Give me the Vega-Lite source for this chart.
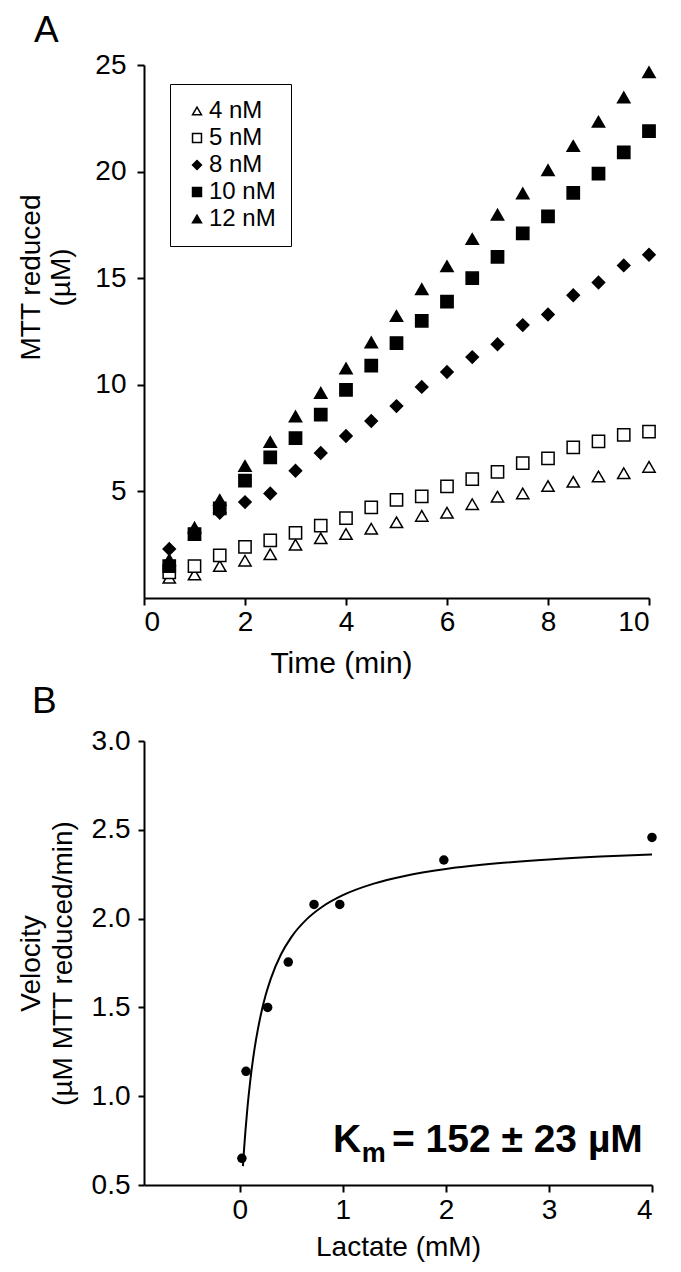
{
  "$schema": "https://vega.github.io/schema/vega-lite/v6.json",
  "background": "white",
  "padding": {"left": 17, "top": 12, "right": 5, "bottom": 5},
  "bounds": "flush",
  "spacing": 143,
  "config": {
    "view": {"stroke": null},
    "font": "Liberation Sans",
    "axis": {"domainColor": "black", "domainWidth": 2, "tickColor": "black", "tickWidth": 2, "grid": false, "labelColor": "black", "titleColor": "black", "labelFont": "Liberation Sans", "titleFont": "Liberation Sans", "titleFontWeight": "normal"},
    "title": {"font": "Liberation Sans", "fontWeight": "normal", "color": "black"},
    "legend": {"symbolStrokeWidth": 1.5}
  },
  "vconcat": [
    {
      "width": 505,
      "height": 533,
      "title": {"text": "A", "anchor": "start", "frame": "group", "dx": -110, "fontSize": 37, "baseline": "alphabetic", "offset": -28},
      "data": {"values": [
        {"time": 0.5, "mtt": 0.95, "conc": "4 nM"}, {"time": 1, "mtt": 1.1, "conc": "4 nM"}, {"time": 1.5, "mtt": 1.5, "conc": "4 nM"}, {"time": 2, "mtt": 1.75, "conc": "4 nM"}, {"time": 2.5, "mtt": 2.05, "conc": "4 nM"}, {"time": 3, "mtt": 2.5, "conc": "4 nM"}, {"time": 3.5, "mtt": 2.8, "conc": "4 nM"}, {"time": 4, "mtt": 3.0, "conc": "4 nM"}, {"time": 4.5, "mtt": 3.25, "conc": "4 nM"}, {"time": 5, "mtt": 3.55, "conc": "4 nM"}, {"time": 5.5, "mtt": 3.85, "conc": "4 nM"}, {"time": 6, "mtt": 4.0, "conc": "4 nM"}, {"time": 6.5, "mtt": 4.4, "conc": "4 nM"}, {"time": 7, "mtt": 4.75, "conc": "4 nM"}, {"time": 7.5, "mtt": 4.9, "conc": "4 nM"}, {"time": 8, "mtt": 5.25, "conc": "4 nM"}, {"time": 8.5, "mtt": 5.45, "conc": "4 nM"}, {"time": 9, "mtt": 5.7, "conc": "4 nM"}, {"time": 9.5, "mtt": 5.85, "conc": "4 nM"}, {"time": 10, "mtt": 6.15, "conc": "4 nM"},
        {"time": 0.5, "mtt": 1.2, "conc": "5 nM"}, {"time": 1, "mtt": 1.5, "conc": "5 nM"}, {"time": 1.5, "mtt": 2.0, "conc": "5 nM"}, {"time": 2, "mtt": 2.4, "conc": "5 nM"}, {"time": 2.5, "mtt": 2.7, "conc": "5 nM"}, {"time": 3, "mtt": 3.05, "conc": "5 nM"}, {"time": 3.5, "mtt": 3.4, "conc": "5 nM"}, {"time": 4, "mtt": 3.75, "conc": "5 nM"}, {"time": 4.5, "mtt": 4.25, "conc": "5 nM"}, {"time": 5, "mtt": 4.6, "conc": "5 nM"}, {"time": 5.5, "mtt": 4.77, "conc": "5 nM"}, {"time": 6, "mtt": 5.24, "conc": "5 nM"}, {"time": 6.5, "mtt": 5.58, "conc": "5 nM"}, {"time": 7, "mtt": 5.92, "conc": "5 nM"}, {"time": 7.5, "mtt": 6.33, "conc": "5 nM"}, {"time": 8, "mtt": 6.55, "conc": "5 nM"}, {"time": 8.5, "mtt": 7.07, "conc": "5 nM"}, {"time": 9, "mtt": 7.35, "conc": "5 nM"}, {"time": 9.5, "mtt": 7.65, "conc": "5 nM"}, {"time": 10, "mtt": 7.8, "conc": "5 nM"},
        {"time": 0.5, "mtt": 2.3, "conc": "8 nM"}, {"time": 1, "mtt": 3.1, "conc": "8 nM"}, {"time": 1.5, "mtt": 4.0, "conc": "8 nM"}, {"time": 2, "mtt": 4.5, "conc": "8 nM"}, {"time": 2.5, "mtt": 4.9, "conc": "8 nM"}, {"time": 3, "mtt": 5.97, "conc": "8 nM"}, {"time": 3.5, "mtt": 6.8, "conc": "8 nM"}, {"time": 4, "mtt": 7.6, "conc": "8 nM"}, {"time": 4.5, "mtt": 8.3, "conc": "8 nM"}, {"time": 5, "mtt": 9.0, "conc": "8 nM"}, {"time": 5.5, "mtt": 9.9, "conc": "8 nM"}, {"time": 6, "mtt": 10.6, "conc": "8 nM"}, {"time": 6.5, "mtt": 11.3, "conc": "8 nM"}, {"time": 7, "mtt": 11.9, "conc": "8 nM"}, {"time": 7.5, "mtt": 12.8, "conc": "8 nM"}, {"time": 8, "mtt": 13.3, "conc": "8 nM"}, {"time": 8.5, "mtt": 14.2, "conc": "8 nM"}, {"time": 9, "mtt": 14.8, "conc": "8 nM"}, {"time": 9.5, "mtt": 15.6, "conc": "8 nM"}, {"time": 10, "mtt": 16.1, "conc": "8 nM"},
        {"time": 0.5, "mtt": 1.5, "conc": "10 nM"}, {"time": 1, "mtt": 3.0, "conc": "10 nM"}, {"time": 1.5, "mtt": 4.2, "conc": "10 nM"}, {"time": 2, "mtt": 5.5, "conc": "10 nM"}, {"time": 2.5, "mtt": 6.6, "conc": "10 nM"}, {"time": 3, "mtt": 7.5, "conc": "10 nM"}, {"time": 3.5, "mtt": 8.6, "conc": "10 nM"}, {"time": 4, "mtt": 9.76, "conc": "10 nM"}, {"time": 4.5, "mtt": 10.9, "conc": "10 nM"}, {"time": 5, "mtt": 11.96, "conc": "10 nM"}, {"time": 5.5, "mtt": 13.0, "conc": "10 nM"}, {"time": 6, "mtt": 13.9, "conc": "10 nM"}, {"time": 6.5, "mtt": 15.0, "conc": "10 nM"}, {"time": 7, "mtt": 16.0, "conc": "10 nM"}, {"time": 7.5, "mtt": 17.1, "conc": "10 nM"}, {"time": 8, "mtt": 17.9, "conc": "10 nM"}, {"time": 8.5, "mtt": 19.0, "conc": "10 nM"}, {"time": 9, "mtt": 19.9, "conc": "10 nM"}, {"time": 9.5, "mtt": 20.9, "conc": "10 nM"}, {"time": 10, "mtt": 21.9, "conc": "10 nM"},
        {"time": 0.5, "mtt": 1.8, "conc": "12 nM"}, {"time": 1, "mtt": 3.3, "conc": "12 nM"}, {"time": 1.5, "mtt": 4.6, "conc": "12 nM"}, {"time": 2, "mtt": 6.19, "conc": "12 nM"}, {"time": 2.5, "mtt": 7.32, "conc": "12 nM"}, {"time": 3, "mtt": 8.52, "conc": "12 nM"}, {"time": 3.5, "mtt": 9.62, "conc": "12 nM"}, {"time": 4, "mtt": 10.77, "conc": "12 nM"}, {"time": 4.5, "mtt": 11.99, "conc": "12 nM"}, {"time": 5, "mtt": 13.23, "conc": "12 nM"}, {"time": 5.5, "mtt": 14.49, "conc": "12 nM"}, {"time": 6, "mtt": 15.56, "conc": "12 nM"}, {"time": 6.5, "mtt": 16.84, "conc": "12 nM"}, {"time": 7, "mtt": 17.98, "conc": "12 nM"}, {"time": 7.5, "mtt": 18.98, "conc": "12 nM"}, {"time": 8, "mtt": 20.07, "conc": "12 nM"}, {"time": 8.5, "mtt": 21.2, "conc": "12 nM"}, {"time": 9, "mtt": 22.34, "conc": "12 nM"}, {"time": 9.5, "mtt": 23.48, "conc": "12 nM"}, {"time": 10, "mtt": 24.66, "conc": "12 nM"}
      ]},
      "mark": {"type": "point", "filled": false, "strokeWidth": 1.5, "size": 150, "opacity": 1, "strokeOpacity": 1, "fillOpacity": 1},
      "encoding": {
        "x": {"field": "time", "type": "quantitative", "scale": {"domain": [0, 10], "nice": false}, "axis": {"values": [0, 2, 4, 6, 8, 10], "title": "Time (min)", "labelFontSize": 28, "titleFontSize": 30, "tickSize": 7, "labelPadding": 3, "titlePadding": 12, "titleX": 197}},
        "y": {"field": "mtt", "type": "quantitative", "scale": {"domain": [0, 25], "nice": false}, "axis": {"values": [5, 10, 15, 20, 25], "title": ["MTT reduced", "(µM)"], "labelFontSize": 28, "titleFontSize": 28, "tickSize": 7, "labelPadding": 11, "titlePadding": 19, "titleLineHeight": 30, "titleY": 212}},
        "shape": {"field": "conc", "type": "nominal", "scale": {"domain": ["4 nM", "5 nM", "8 nM", "10 nM", "12 nM"], "range": ["triangle-up", "square", "diamond", "square", "triangle-up"]},
          "legend": {"orient": "none", "legendX": 26, "legendY": 19, "title": null, "labelFontSize": 24, "labelFont": "Liberation Sans", "labelColor": "black", "strokeColor": "black", "padding": 15, "rowPadding": 3, "symbolSize": 80, "labelOffset": 0, "encode": {"legend": {"update": {"strokeWidth": {"value": 1.5}}}}}},
        "fill": {"field": "conc", "type": "nominal", "scale": {"domain": ["4 nM", "5 nM", "8 nM", "10 nM", "12 nM"], "range": ["white", "white", "black", "black", "black"]},
          "legend": {"orient": "none", "legendX": 26, "legendY": 19, "title": null, "labelFontSize": 24, "labelFont": "Liberation Sans", "labelColor": "black", "strokeColor": "black", "padding": 15, "rowPadding": 3, "symbolSize": 80, "labelOffset": 0, "encode": {"legend": {"update": {"strokeWidth": {"value": 1.5}}}}}},
        "stroke": {"field": "conc", "type": "nominal", "scale": {"domain": ["4 nM", "5 nM", "8 nM", "10 nM", "12 nM"], "range": ["black", "black", "black", "black", "black"]},
          "legend": {"orient": "none", "legendX": 26, "legendY": 19, "title": null, "labelFontSize": 24, "labelFont": "Liberation Sans", "labelColor": "black", "strokeColor": "black", "padding": 15, "rowPadding": 3, "symbolSize": 80, "labelOffset": 0, "encode": {"legend": {"update": {"strokeWidth": {"value": 1.5}}}}}}
      }
    },
    {
      "width": 508,
      "height": 444,
      "title": {"text": "B", "anchor": "start", "frame": "group", "dx": -112, "fontSize": 37, "baseline": "alphabetic", "offset": -23},
      "layer": [
        {
          "data": {"values": [
            {"lactate": 0.03, "velocity": 0.606}, {"lactate": 0.04, "velocity": 0.693}, {"lactate": 0.055, "velocity": 0.809}, {"lactate": 0.075, "velocity": 0.942}, {"lactate": 0.1, "velocity": 1.081}, {"lactate": 0.13, "velocity": 1.217}, {"lactate": 0.16, "velocity": 1.328}, {"lactate": 0.2, "velocity": 1.449}, {"lactate": 0.25, "velocity": 1.568}, {"lactate": 0.3, "velocity": 1.661}, {"lactate": 0.4, "velocity": 1.799}, {"lactate": 0.5, "velocity": 1.896}, {"lactate": 0.65, "velocity": 1.997}, {"lactate": 0.8, "velocity": 2.067}, {"lactate": 1.0, "velocity": 2.132}, {"lactate": 1.3, "velocity": 2.197}, {"lactate": 1.6, "velocity": 2.24}, {"lactate": 2.0, "velocity": 2.279}, {"lactate": 2.5, "velocity": 2.311}, {"lactate": 3.0, "velocity": 2.333}, {"lactate": 3.5, "velocity": 2.349}, {"lactate": 4.0, "velocity": 2.361}
          ]},
          "mark": {"type": "line", "color": "black", "strokeWidth": 2, "interpolate": "monotone"},
          "encoding": {
            "x": {"field": "lactate", "type": "quantitative", "scale": {"domain": [-0.93, 4], "nice": false}, "axis": {"values": [0, 1, 2, 3, 4], "format": "d", "title": "Lactate (mM)", "labelFontSize": 28, "titleFontSize": 28, "tickSize": 7, "labelPadding": 4, "titlePadding": 9}},
            "y": {"field": "velocity", "type": "quantitative", "scale": {"domain": [0.5, 3], "nice": false}, "axis": {"values": [0.5, 1, 1.5, 2, 2.5, 3], "format": ".1f", "title": ["Velocity", "(µM MTT reduced/min)"], "labelFontSize": 28, "titleFontSize": 28, "tickSize": 6, "labelPadding": 8, "titlePadding": 14, "titleLineHeight": 32}}
          }
        },
        {
          "data": {"values": [
            {"lactate": 0.02, "velocity": 0.65}, {"lactate": 0.06, "velocity": 1.14}, {"lactate": 0.27, "velocity": 1.5}, {"lactate": 0.47, "velocity": 1.755}, {"lactate": 0.72, "velocity": 2.08}, {"lactate": 0.97, "velocity": 2.08}, {"lactate": 1.98, "velocity": 2.33}, {"lactate": 4.0, "velocity": 2.457}
          ]},
          "mark": {"type": "circle", "color": "black", "opacity": 1, "size": 90},
          "encoding": {
            "x": {"field": "lactate", "type": "quantitative"},
            "y": {"field": "velocity", "type": "quantitative"}
          }
        },
        {
          "data": {"values": [{"lactate": 0.903, "velocity": 0.686, "label": "K"}]},
          "mark": {"type": "text", "fontSize": 39, "fontWeight": "bold", "align": "left", "baseline": "alphabetic", "color": "black", "font": "Liberation Sans"},
          "encoding": {"x": {"field": "lactate", "type": "quantitative"}, "y": {"field": "velocity", "type": "quantitative"}, "text": {"field": "label"}}
        },
        {
          "data": {"values": [{"lactate": 1.184, "velocity": 0.63, "label": "m"}]},
          "mark": {"type": "text", "fontSize": 27, "fontWeight": "bold", "align": "left", "baseline": "alphabetic", "color": "black", "font": "Liberation Sans"},
          "encoding": {"x": {"field": "lactate", "type": "quantitative"}, "y": {"field": "velocity", "type": "quantitative"}, "text": {"field": "label"}}
        },
        {
          "data": {"values": [{"lactate": 1.476, "velocity": 0.686, "label": "= 152 ± 23 µM"}]},
          "mark": {"type": "text", "fontSize": 39, "fontWeight": "bold", "align": "left", "baseline": "alphabetic", "color": "black", "font": "Liberation Sans"},
          "encoding": {"x": {"field": "lactate", "type": "quantitative"}, "y": {"field": "velocity", "type": "quantitative"}, "text": {"field": "label"}}
        }
      ]
    }
  ]
}
